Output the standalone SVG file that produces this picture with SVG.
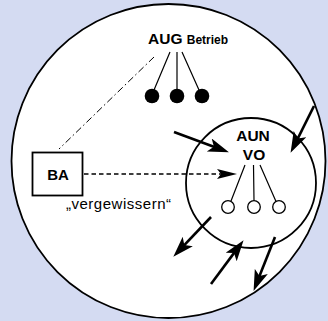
<svg xmlns="http://www.w3.org/2000/svg" width="328" height="321" viewBox="0 0 328 321">
<defs>
<style>
.line{stroke:#000;fill:none}
.thin{stroke-width:1.2}
.thick{stroke-width:2.6}
.bold{font-family:"Liberation Sans",Arial,sans-serif;font-weight:bold;fill:#000}
.reg{font-family:"Liberation Sans",Arial,sans-serif;fill:#000}
</style>
<marker id="arr" markerUnits="userSpaceOnUse" markerWidth="23" markerHeight="15" refX="12" refY="7" orient="auto">
<path d="M0,0 L21,7 L0,14 L5,7 z" fill="#000"/>
</marker>
<marker id="arrd" markerUnits="userSpaceOnUse" markerWidth="22" markerHeight="12" refX="14" refY="5" orient="auto">
<path d="M0,0 L20,5 L0,10 L4,5 z" fill="#000"/>
</marker>
</defs>
<rect width="328" height="321" fill="#D4DBF2"/>
<g id="world">
<circle cx="168.5" cy="161" r="157" fill="#fff" stroke="#000" stroke-width="1.8"/>
</g>
<g id="aun">
<circle cx="251" cy="183" r="65" fill="none" stroke="#000" stroke-width="1.8"/>
<text class="bold" x="253" y="141" font-size="15.5" text-anchor="middle">AUN</text>
<text class="bold" x="254" y="160" font-size="15.5" text-anchor="middle">VO</text>
<circle cx="228" cy="207" r="6.3" fill="#fff" stroke="#000" stroke-width="1.3"/>
<circle cx="254" cy="207" r="6.3" fill="#fff" stroke="#000" stroke-width="1.3"/>
<circle cx="279" cy="207" r="6.3" fill="#fff" stroke="#000" stroke-width="1.3"/>
<path class="line thin" d="M245,165 L231,201 M253.5,165 L254,200.5 M260,165 L276,201.5"/>
</g>
<g id="aug">
<text class="bold" x="148" y="44" font-size="15.5">AUG <tspan font-size="12">Betrieb</tspan></text>
<circle cx="152" cy="96" r="7.3" fill="#000"/>
<circle cx="177" cy="96" r="7.3" fill="#000"/>
<circle cx="202" cy="96" r="7.3" fill="#000"/>
<path class="line thin" d="M170,52 L154,90 M177,52 L177,89 M182,52 L199,90"/>
</g>
<g id="ba">
<rect x="32.5" y="152.5" width="50" height="43" fill="#fff" stroke="#000" stroke-width="1.8"/>
<text class="bold" x="58" y="180" font-size="15" text-anchor="middle">BA</text>
<text class="reg" x="66" y="209" font-size="15" textLength="105" lengthAdjust="spacing">„vergewissern“</text>
</g>
<g id="connectors">
<path class="line" stroke-width="1" stroke-dasharray="7,3,1.5,3" d="M154,57 L59,149"/>
<path class="line" stroke-width="1.3" stroke-dasharray="4.5,3" d="M84,174 L231,174" marker-end="url(#arrd)"/>
<path class="line thick" d="M174,132 L220.5,149.2" marker-end="url(#arr)"/>
<path class="line thick" d="M314,106 L294.6,144.8" marker-end="url(#arr)"/>
<path class="line thick" d="M211,217 L179.5,250.2" marker-end="url(#arr)"/>
<path class="line thick" d="M211,284 L238.2,247.4" marker-end="url(#arr)"/>
<path class="line thick" d="M275,237 L256.9,282.6" marker-end="url(#arr)"/>
</g>
</svg>
